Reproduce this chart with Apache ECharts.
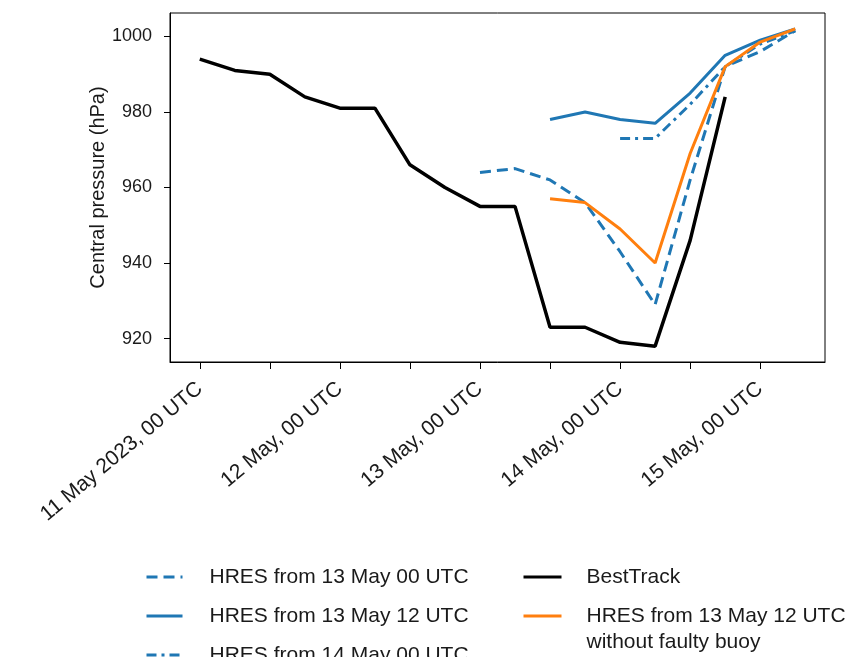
<!DOCTYPE html>
<html>
<head>
<meta charset="utf-8">
<script src="https://cdn.jsdelivr.net/npm/echarts@6/dist/echarts.min.js"></script>
<style>
html,body{margin:0;padding:0;background:#fff;}
#chart{width:850px;height:657px;}
</style>
</head>
<body>
<div id="chart"></div>
<script>
// Hours since 11 May 2023, 00 UTC
const dayTickLabels = ['11 May 2023, 00 UTC', '12 May, 00 UTC', '13 May, 00 UTC', '14 May, 00 UTC', '15 May, 00 UTC'];
const dayTickHours = [0, 24, 48, 72, 96];
const minorTickHours = [0, 12, 24, 36, 48, 60, 72, 84, 96];
const yTickValues = [920, 940, 960, 980, 1000];

const bestTrackHours = [0, 6, 12, 18, 24, 30, 36, 42, 48, 54, 60, 66, 72, 78, 84, 90];
const bestTrack = [994, 991, 990, 984, 981, 981, 966, 960, 955, 955, 923, 923, 919, 918, 946, 984];

const hres1300Hours = [48, 54, 60, 66, 72, 78, 84, 90, 96, 102];
const hres1300 = [964, 965, 962, 956, 943, 929, 962, 992, 996, 1001.5];

const hres1312Hours = [60, 66, 72, 78, 84, 90, 96, 102];
const hres1312 = [978, 980, 978, 977, 985, 995, 999, 1002];

const hres1400Hours = [72, 78, 84, 90, 96, 102];
const hres1400 = [973, 973, 982, 992, 998, 1001.5];

const hresNoBuoyHours = [60, 66, 72, 78, 84, 90, 96, 102];
const hresNoBuoy = [957, 956, 949, 940, 969, 992, 998.5, 1002];

const names = ['HRES from 13 May 00 UTC', 'HRES from 13 May 12 UTC', 'HRES from 14 May 00 UTC', 'BestTrack', 'HRES from 13 May 12 UTC\nwithout faulty buoy'];

function pairs(h, v) { return h.map((x, i) => [x, v[i]]); }

const FONT = 'Liberation Sans, Arial, Helvetica, sans-serif';
const BLUE = '#1f77b4', ORANGE = '#ff7f0e';

const chart = echarts.init(document.getElementById('chart'), null, {renderer: 'canvas'});
const legendBase = {
  orient: 'vertical', height: 200, itemGap: 13, itemHeight: 14, padding: 0,
  selectedMode: false, itemStyle: {opacity: 0}, lineStyle: {width: 3}
};
chart.setOption({
  animation: false,
  backgroundColor: '#fff',
  grid: {left: 170, top: 13, right: 25, bottom: 295, show: true, borderColor: '#000', borderWidth: 1, backgroundColor: 'transparent'},
  xAxis: {
    type: 'value', min: -5.1, max: 107.1,
    splitLine: {show: false},
    axisLine: {show: true, onZero: false, lineStyle: {color: '#000', width: 1}},
    axisTick: {show: true, length: 7, lineStyle: {color: '#000'}, customValues: minorTickHours},
    axisLabel: {
      customValues: dayTickHours, rotate: 40, margin: 24,
      fontFamily: FONT, fontSize: 21, color: '#1a1a1a',
      formatter: v => dayTickLabels[dayTickHours.indexOf(v)] || ''
    }
  },
  yAxis: {
    type: 'value', min: 913.8, max: 1006.2,
    name: 'Central pressure (hPa)', nameLocation: 'middle', nameGap: 62, nameRotate: 90, nameMoveOverlap: false,
    nameTextStyle: {fontFamily: FONT, fontSize: 20, color: '#1a1a1a'},
    splitLine: {show: false},
    axisLine: {show: true, onZero: false, lineStyle: {color: '#000', width: 1}},
    axisTick: {show: true, length: 6, lineStyle: {color: '#000'}, customValues: yTickValues},
    axisLabel: {customValues: yTickValues, margin: 18, fontFamily: FONT, fontSize: 18, color: '#1a1a1a',
      formatter: v => String(v)}
  },
  legend: [
    Object.assign({}, legendBase, {
      left: 145, top: 564, itemWidth: 36,
      data: [names[0], names[1], names[2]],
      textStyle: {fontFamily: FONT, fontSize: 21, color: '#1a1a1a', lineHeight: 26, padding: [0, 0, 0, 22]}
    }),
    Object.assign({}, legendBase, {
      left: 522, top: 564, itemWidth: 38,
      data: [names[3]],
      textStyle: {fontFamily: FONT, fontSize: 21, color: '#1a1a1a', lineHeight: 26, padding: [0, 0, 0, 20]}
    }),
    Object.assign({}, legendBase, {
      left: 522, top: 577, itemWidth: 38,
      data: [names[4]],
      formatter: n => '\n' + n,
      textStyle: {fontFamily: FONT, fontSize: 21, color: '#1a1a1a', lineHeight: 26, padding: [0, 0, 0, 20]}
    })
  ],
  series: [
    {name: names[0], type: 'line', data: pairs(hres1300Hours, hres1300), showSymbol: false, symbol: 'none',
     lineStyle: {color: BLUE, width: 3, type: [11, 6]}, itemStyle: {color: BLUE}},
    {name: names[1], type: 'line', data: pairs(hres1312Hours, hres1312), showSymbol: false, symbol: 'none',
     lineStyle: {color: BLUE, width: 3, type: 'solid'}, itemStyle: {color: BLUE}},
    {name: names[2], type: 'line', data: pairs(hres1400Hours, hres1400), showSymbol: false, symbol: 'none',
     lineStyle: {color: BLUE, width: 3, type: [10, 5, 3, 5]}, itemStyle: {color: BLUE}},
    {name: names[3], type: 'line', data: pairs(bestTrackHours, bestTrack), showSymbol: false, symbol: 'none',
     lineStyle: {color: '#000', width: 3.5, type: 'solid'}, itemStyle: {color: '#000'}},
    {name: names[4], type: 'line', data: pairs(hresNoBuoyHours, hresNoBuoy), showSymbol: false, symbol: 'none',
     lineStyle: {color: ORANGE, width: 3, type: 'solid'}, itemStyle: {color: ORANGE}}
  ]
});
</script>
</body>
</html>
